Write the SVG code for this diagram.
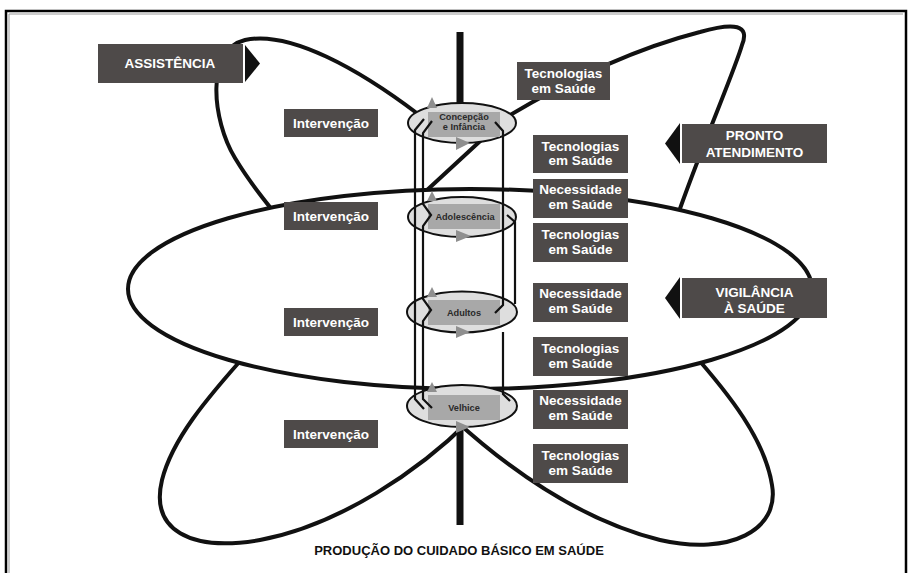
<svg xmlns="http://www.w3.org/2000/svg" width="908" height="573" viewBox="0 0 908 573">
<style>
.petal{fill:none;stroke:#111;stroke-width:4;stroke-linecap:round;stroke-linejoin:round}
.box{fill:#4e4a49}
.lbl{font-family:"Liberation Sans",Arial,sans-serif;font-weight:bold;font-size:13.5px;fill:#fff;text-anchor:middle}
.stage{fill:#dedede;stroke:#111;stroke-width:2}
.srect{fill:#a8a8a8}
.stxt{font-family:"Liberation Sans",Arial,sans-serif;font-weight:bold;font-size:9.2px;fill:#2a2a2a;text-anchor:middle}
.tri{fill:#8f8f8f}
.col{fill:none;stroke:#111;stroke-width:2.2;stroke-linejoin:miter}
.title{font-family:"Liberation Sans",Arial,sans-serif;font-weight:bold;font-size:13px;fill:#111;text-anchor:middle}
</style>
<rect width="908" height="573" fill="#fff"/>
<g id="frame">
<path d="M6,590 V11 H906 V590" fill="none" stroke="#000" stroke-width="2.5"/>
<path d="M9,590 V14 H903" fill="none" stroke="#9a9a9a" stroke-width="1"/>
</g>
<g id="connectors">
<path class="petal" d="M418,114 C360,70 290,30 245,40 C205,50 212,120 235,158 C250,183 268,205 290,232"/>
<path class="petal" d="M505,118 Q610,55 700,32 C735,22 750,25 742,45 C735,70 700,150 676,220"/>
<path class="petal" d="M490,132 L400,215"/>
<path class="petal" d="M470,420 C420,470 340,525 260,540 C190,552 150,530 162,480 C172,440 205,400 250,350"/>
<path class="petal" d="M455,420 C510,470 580,520 660,540 C730,556 780,530 772,485 C765,440 730,395 690,350"/>
<path d="M460,32 V110 M460,425 V525" stroke="#111" stroke-width="7" fill="none"/>
</g>
<g id="vigilancia-ellipse">
<ellipse cx="470" cy="289" rx="342" ry="100" fill="#fff" stroke="#111" stroke-width="4"/>
</g>
<g id="stage-concepcao">
<ellipse class="stage" cx="462" cy="123" rx="54" ry="20"/>
<rect class="srect" x="428" y="112" width="72" height="25"/>
<text class="stxt" x="464" y="120">Concepção</text>
<text class="stxt" x="464" y="129.5">e Infância</text>
<path class="tri" d="M427,108 L437,108 L432,97 Z"/>
<path class="tri" d="M456,137 L470,143 L456,150 Z"/>
</g>
<g id="stage-adolescencia">
<ellipse class="stage" cx="462" cy="217" rx="54" ry="20"/>
<rect class="srect" x="428" y="204" width="72" height="25"/>
<text class="stxt" x="465" y="219.5">Adolescência</text>
<path class="tri" d="M427,201 L437,201 L432,191 Z"/>
<path class="tri" d="M456,230 L471,236 L456,242 Z"/>
</g>
<g id="stage-adultos">
<ellipse class="stage" cx="462" cy="312" rx="55" ry="20.5"/>
<rect class="srect" x="428" y="300" width="72" height="25"/>
<text class="stxt" x="464" y="316">Adultos</text>
<path class="tri" d="M427,297 L437,297 L432,287 Z"/>
<path class="tri" d="M456,326 L470,332 L456,338 Z"/>
</g>
<g id="stage-velhice">
<ellipse class="stage" cx="462" cy="406" rx="55" ry="21"/>
<rect class="srect" x="428" y="395" width="72" height="25"/>
<text class="stxt" x="464" y="410.5">Velhice</text>
<path class="tri" d="M427,392 L437,392 L432,382 Z"/>
<path class="tri" d="M456,421 L470,427 L456,433 Z"/>
</g>
<g id="column-lines">
<path class="col" d="M424,119 L415,130 L415,399 L424,409"/>
<path class="col" d="M432,121 L423,133 L423,204 L431,215 L423,226 L423,299 L431,310 L423,321 L423,399 L432,408"/>
<path class="col" d="M495,122 L503,131 L503,305 L495,313"/>
<path class="col" d="M507,215 L515,222 L515,304"/>
<path class="col" d="M503,332 L503,394 L510,401"/>
</g>
<g id="assistencia">
<rect class="box" x="98" y="44" width="145" height="39"/>
<path d="M245,45 L260,63.5 L245,82 Z" fill="#111"/>
<text class="lbl" x="170" y="68">ASSISTÊNCIA</text>
</g>
<g id="pronto-atendimento">
<rect class="box" x="682" y="124" width="145" height="39"/>
<path d="M680,123 L665,143.5 L680,164 Z" fill="#111"/>
<text class="lbl" x="754.5" y="140">PRONTO</text>
<text class="lbl" x="754.5" y="156.5">ATENDIMENTO</text>
</g>
<g id="vigilancia">
<rect class="box" x="682" y="278" width="145" height="40"/>
<path d="M680,277 L665,298 L680,319 Z" fill="#111"/>
<text class="lbl" x="754.5" y="297">VIGILÂNCIA</text>
<text class="lbl" x="754.5" y="313">À SAÚDE</text>
</g>
<g id="tec1"><rect class="box" x="517" y="62" width="93" height="38"/><text class="lbl" x="563.5" y="78">Tecnologias</text><text class="lbl" x="563.5" y="93">em Saúde</text></g>
<g id="tec2"><rect class="box" x="533" y="135" width="95" height="38"/><text class="lbl" x="580.5" y="150.5">Tecnologias</text><text class="lbl" x="580.5" y="165">em Saúde</text></g>
<g id="nec1"><rect class="box" x="533" y="179" width="95" height="39"/><text class="lbl" x="580.5" y="194">Necessidade</text><text class="lbl" x="580.5" y="209">em Saúde</text></g>
<g id="tec3"><rect class="box" x="533" y="223" width="95" height="39"/><text class="lbl" x="580.5" y="238.5">Tecnologias</text><text class="lbl" x="580.5" y="253.5">em Saúde</text></g>
<g id="nec2"><rect class="box" x="533" y="283" width="95" height="39"/><text class="lbl" x="580.5" y="298">Necessidade</text><text class="lbl" x="580.5" y="313">em Saúde</text></g>
<g id="tec4"><rect class="box" x="533" y="337" width="95" height="39"/><text class="lbl" x="580.5" y="352.5">Tecnologias</text><text class="lbl" x="580.5" y="367.5">em Saúde</text></g>
<g id="nec3"><rect class="box" x="533" y="390" width="95" height="39"/><text class="lbl" x="580.5" y="405">Necessidade</text><text class="lbl" x="580.5" y="420">em Saúde</text></g>
<g id="tec5"><rect class="box" x="533" y="444" width="95" height="39"/><text class="lbl" x="580.5" y="459.5">Tecnologias</text><text class="lbl" x="580.5" y="474.5">em Saúde</text></g>
<g id="int1"><rect class="box" x="284" y="109" width="94" height="28"/><text class="lbl" x="331" y="128">Intervenção</text></g>
<g id="int2"><rect class="box" x="284" y="202" width="94" height="28"/><text class="lbl" x="331" y="221">Intervenção</text></g>
<g id="int3"><rect class="box" x="284" y="308" width="94" height="28"/><text class="lbl" x="331" y="327">Intervenção</text></g>
<g id="int4"><rect class="box" x="284" y="420" width="94" height="28"/><text class="lbl" x="331" y="439">Intervenção</text></g>
<g id="title"><text class="title" x="459" y="555">PRODUÇÃO DO CUIDADO BÁSICO EM SAÚDE</text></g>
</svg>
